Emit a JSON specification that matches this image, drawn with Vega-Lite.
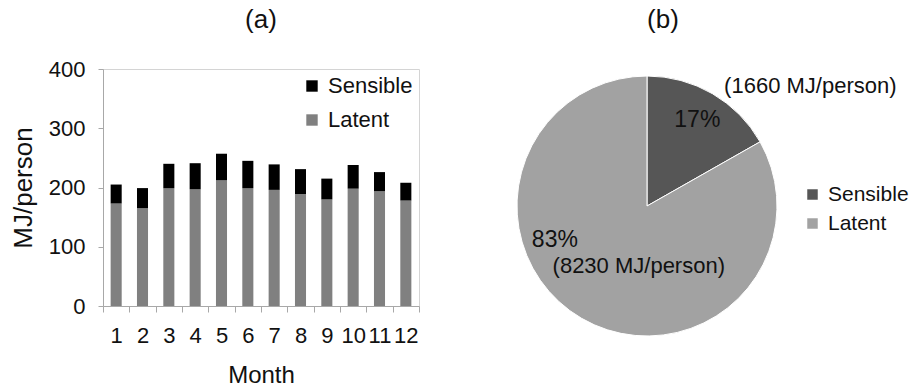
{
  "$schema": "https://vega.github.io/schema/vega-lite/v6.json",
  "background": "white",
  "padding": {"left": 9, "top": 6, "right": 0, "bottom": 0},
  "config": {
    "font": "Liberation Sans",
    "title": {"fontSize": 26, "fontWeight": "normal", "color": "#111"},
    "axis": {"labelColor": "#111", "titleColor": "#111", "titleFontWeight": "normal", "domainColor": "#a8a8a8", "tickColor": "#a8a8a8", "grid": false},
    "legend": {"labelColor": "#111"}
  },
  "datasets": {
    "monthly": [
      {"month": 1, "type": "Latent", "ord": 1, "value": 173},
      {"month": 1, "type": "Sensible", "ord": 2, "value": 32},
      {"month": 2, "type": "Latent", "ord": 1, "value": 165},
      {"month": 2, "type": "Sensible", "ord": 2, "value": 34},
      {"month": 3, "type": "Latent", "ord": 1, "value": 199},
      {"month": 3, "type": "Sensible", "ord": 2, "value": 41},
      {"month": 4, "type": "Latent", "ord": 1, "value": 197},
      {"month": 4, "type": "Sensible", "ord": 2, "value": 44},
      {"month": 5, "type": "Latent", "ord": 1, "value": 212},
      {"month": 5, "type": "Sensible", "ord": 2, "value": 45},
      {"month": 6, "type": "Latent", "ord": 1, "value": 199},
      {"month": 6, "type": "Sensible", "ord": 2, "value": 46},
      {"month": 7, "type": "Latent", "ord": 1, "value": 196},
      {"month": 7, "type": "Sensible", "ord": 2, "value": 43},
      {"month": 8, "type": "Latent", "ord": 1, "value": 189},
      {"month": 8, "type": "Sensible", "ord": 2, "value": 42},
      {"month": 9, "type": "Latent", "ord": 1, "value": 180},
      {"month": 9, "type": "Sensible", "ord": 2, "value": 35},
      {"month": 10, "type": "Latent", "ord": 1, "value": 198},
      {"month": 10, "type": "Sensible", "ord": 2, "value": 40},
      {"month": 11, "type": "Latent", "ord": 1, "value": 194},
      {"month": 11, "type": "Sensible", "ord": 2, "value": 32},
      {"month": 12, "type": "Latent", "ord": 1, "value": 178},
      {"month": 12, "type": "Sensible", "ord": 2, "value": 30}
    ],
    "annual": [
      {"type": "Sensible", "ord": 1, "value": 1660, "pct": "17%", "mj": "(1660 MJ/person)"},
      {"type": "Latent", "ord": 2, "value": 8230, "pct": "83%", "mj": "(8230 MJ/person)"}
    ]
  },
  "hconcat": [
    {
      "title": {"text": "(a)", "offset": 25},
      "width": 316,
      "height": 237,
      "view": {"stroke": "#d4d4d4"},
      "data": {"name": "monthly"},
      "mark": {"type": "bar", "width": {"band": 0.42}},
      "encoding": {
        "x": {
          "field": "month", "type": "ordinal",
          "scale": {"paddingInner": 0, "paddingOuter": 0},
          "axis": {"title": "Month", "labelAngle": 0, "tickBand": "extent", "tickSize": 6, "labelFontSize": 22, "labelPadding": 13, "titleFontSize": 24, "titlePadding": 17}
        },
        "y": {
          "field": "value", "type": "quantitative", "stack": true,
          "scale": {"domain": [0, 400]},
          "axis": {"title": "MJ/person", "values": [0, 100, 200, 300, 400], "tickSize": 5, "labelFontSize": 22, "labelPadding": 13, "titleFontSize": 26, "titlePadding": 12}
        },
        "color": {
          "field": "type", "type": "nominal",
          "scale": {"domain": ["Sensible", "Latent"], "range": ["#000000", "#808080"]},
          "legend": {"title": null, "orient": "top-right", "offset": 6, "symbolType": "square", "symbolSize": 130, "symbolStrokeWidth": 0, "labelFontSize": 22, "labelOffset": 5, "rowPadding": 12}
        },
        "order": {"field": "ord", "type": "quantitative"}
      }
    },
    {
      "title": {"text": "(b)", "offset": 36, "dx": 16},
      "width": 274,
      "height": 274,
      "view": {"stroke": null},
      "data": {"name": "annual"},
      "layer": [
        {
          "mark": {"type": "arc", "outerRadius": 130, "stroke": "white", "strokeWidth": 1},
          "encoding": {
            "theta": {"field": "value", "type": "quantitative", "stack": true},
            "color": {
              "field": "type", "type": "nominal",
              "scale": {"domain": ["Sensible", "Latent"], "range": ["#565656", "#a2a2a2"]},
              "legend": {"title": null, "orient": "none", "legendX": 292, "legendY": 115, "symbolType": "square", "symbolSize": 110, "symbolStrokeWidth": 0, "labelFontSize": 21, "labelOffset": 5, "rowPadding": 7}
            },
            "order": {"field": "ord", "type": "quantitative"}
          }
        },
        {
          "mark": {"type": "text", "radius": 100, "fontSize": 23, "color": "#111"},
          "encoding": {
            "theta": {"field": "value", "type": "quantitative", "stack": true},
            "detail": {"field": "type"},
            "order": {"field": "ord", "type": "quantitative"},
            "text": {"condition": {"test": "datum.type === 'Sensible'", "field": "pct"}, "value": ""}
          }
        },
        {
          "mark": {"type": "text", "radius": 100, "dx": 113, "dy": -34, "fontSize": 22, "color": "#111"},
          "encoding": {
            "theta": {"field": "value", "type": "quantitative", "stack": true},
            "detail": {"field": "type"},
            "order": {"field": "ord", "type": "quantitative"},
            "text": {"condition": {"test": "datum.type === 'Sensible'", "field": "mj"}, "value": ""}
          }
        },
        {
          "mark": {"type": "text", "radius": 40, "dx": -72, "dy": -1, "fontSize": 23, "color": "#111"},
          "encoding": {
            "theta": {"field": "value", "type": "quantitative", "stack": true},
            "detail": {"field": "type"},
            "order": {"field": "ord", "type": "quantitative"},
            "text": {"condition": {"test": "datum.type === 'Latent'", "field": "pct"}, "value": ""}
          }
        },
        {
          "mark": {"type": "text", "radius": 70, "dx": 27, "dy": 0, "fontSize": 22, "color": "#111"},
          "encoding": {
            "theta": {"field": "value", "type": "quantitative", "stack": true},
            "detail": {"field": "type"},
            "order": {"field": "ord", "type": "quantitative"},
            "text": {"condition": {"test": "datum.type === 'Latent'", "field": "mj"}, "value": ""}
          }
        }
      ]
    }
  ],
  "spacing": 90,
  "resolve": {"scale": {"color": "independent", "theta": "independent"}, "legend": {"color": "independent"}}
}
